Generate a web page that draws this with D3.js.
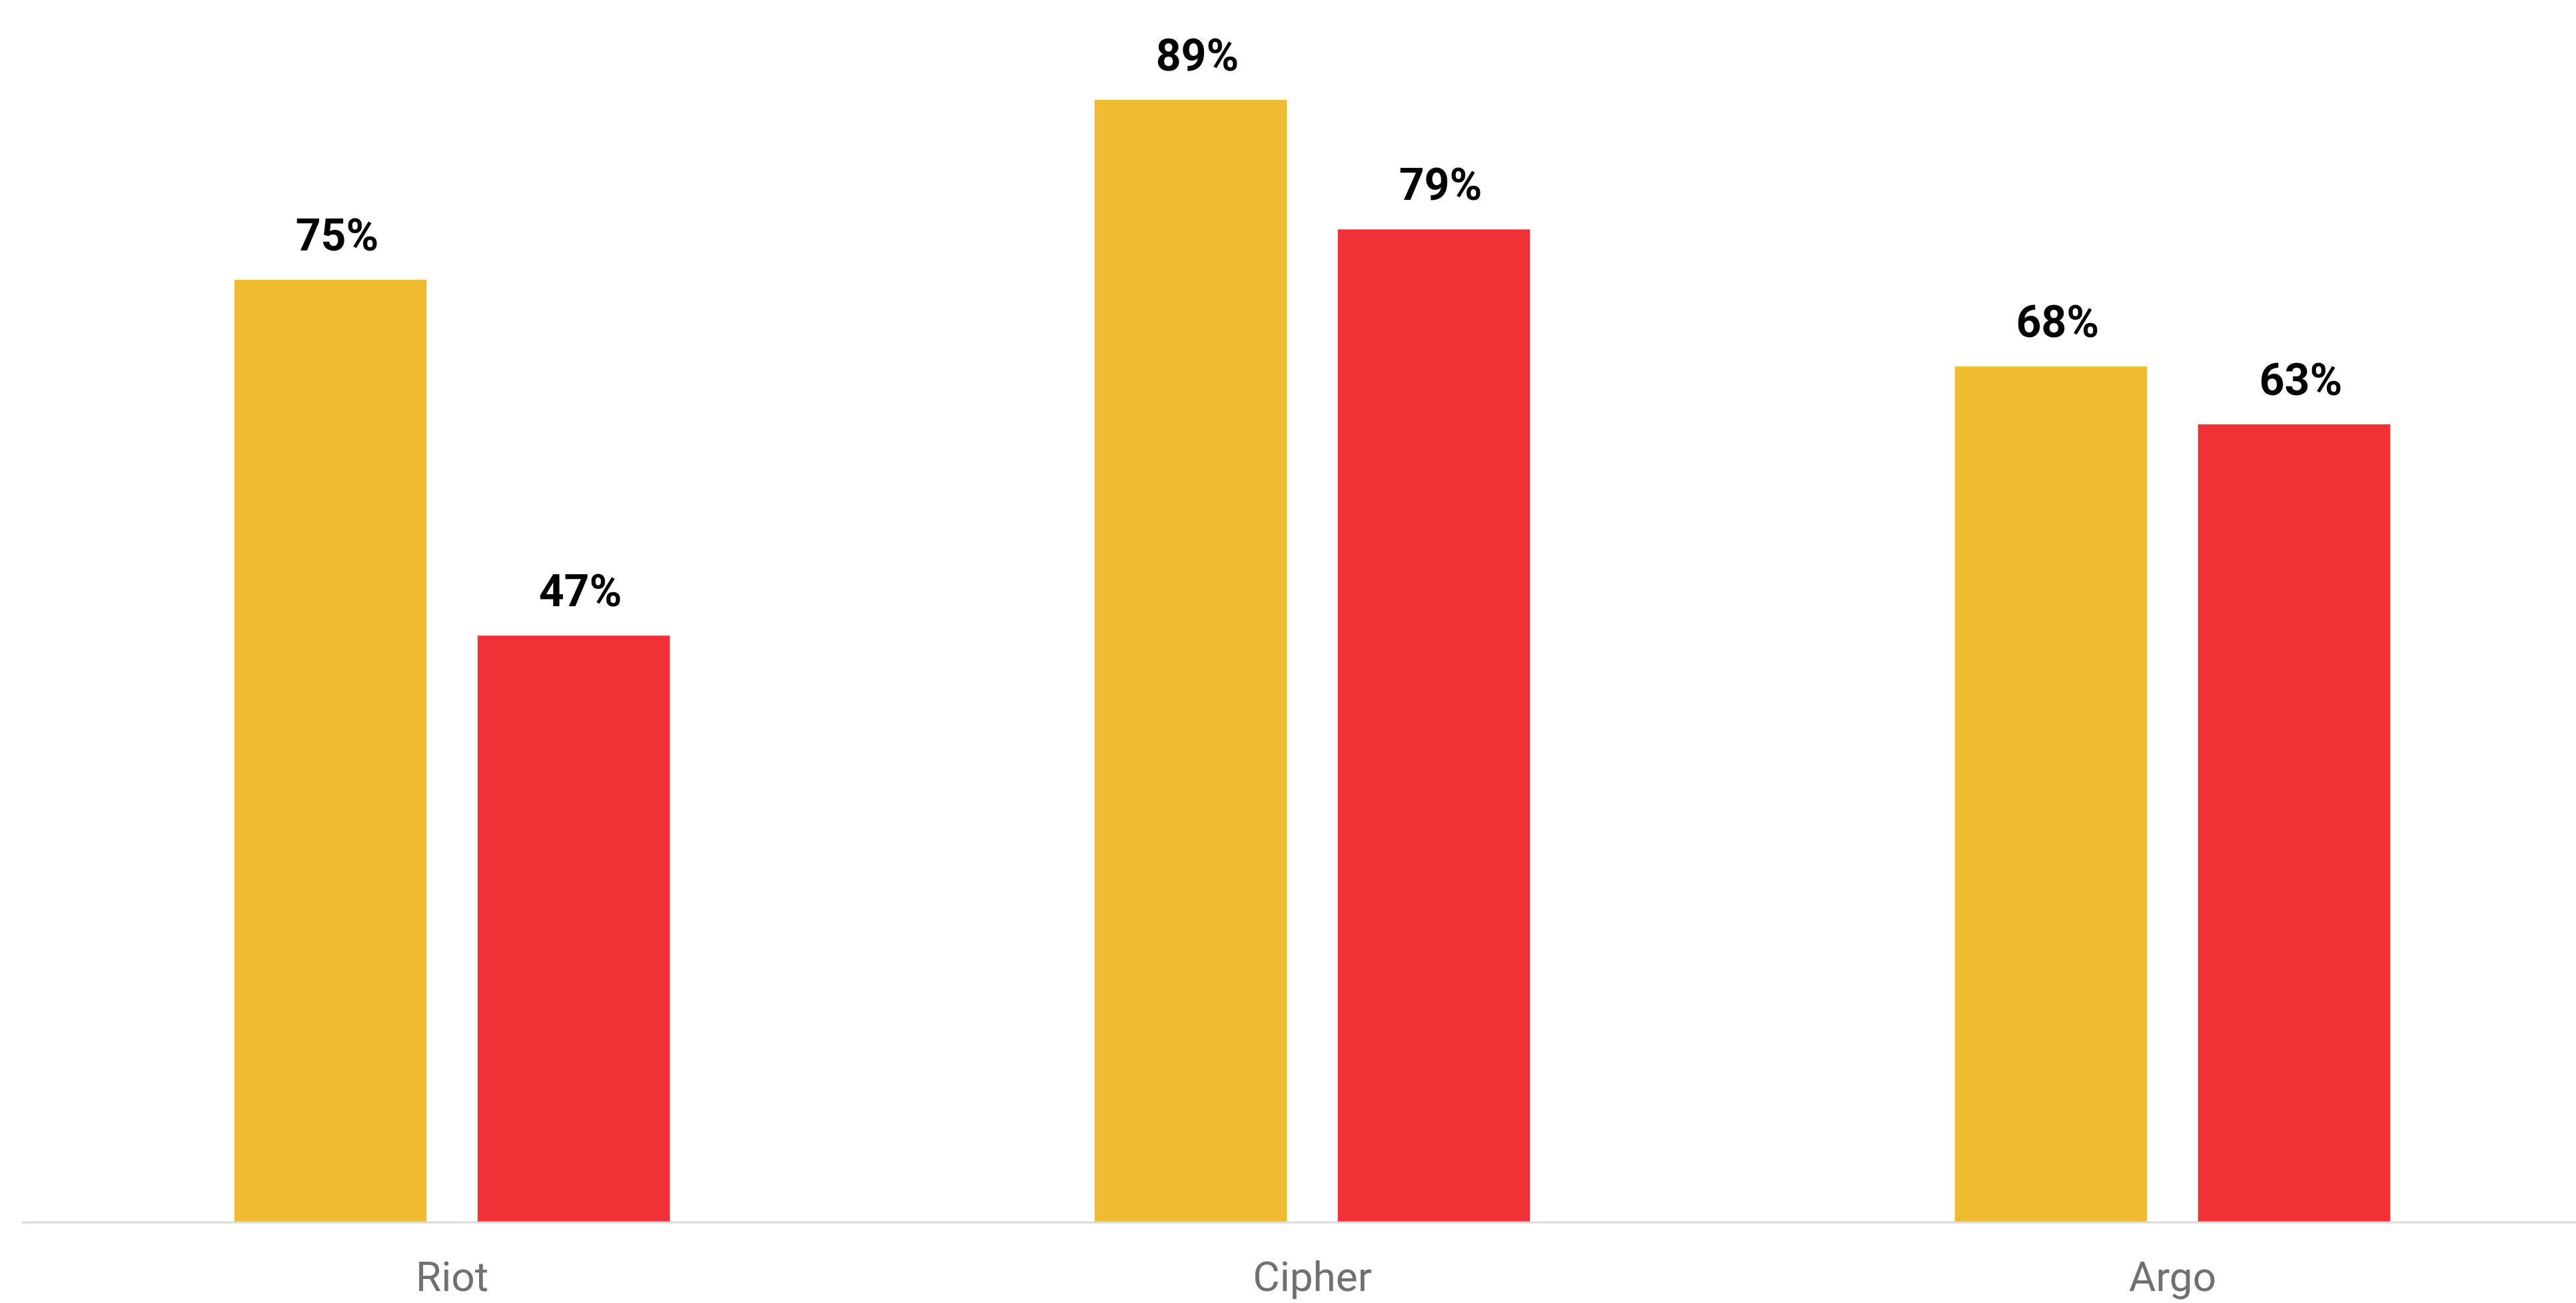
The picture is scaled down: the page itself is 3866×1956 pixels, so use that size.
<!DOCTYPE html>
<html>
<head>
<meta charset="utf-8">
<script src="https://cdn.jsdelivr.net/npm/d3@7"></script>
<style>
    body { margin: 0; background: #fff; }
</style>
</head>
<body>
<div id="wrapper"></div>
<script>
/*global d3*/

// data (labels are rounded)
const categories = ["Riot", "Cipher", "Argo"]
const seriesNames = ["first", "second"]
const firstValues = [74.9, 89.2, 68.0]
const secondValues = [46.6, 78.9, 63.4]
const seriesColors = ["#f0bb31", "#ef3235"]

function drawBars() {

    // 1. data
    const dataset = categories.map((c, i) => ({
        category: c,
        values: [
            { key: seriesNames[0], value: firstValues[i] },
            { key: seriesNames[1], value: secondValues[i] },
        ]
    }))

    // 2. dims
    let dims = {
        width: 3866,
        height: 1956,
        baseline: 1834,
        pxPerUnit: 18.88,
        left: 33,
        step: 1291,
        groupWidth: 653.5,
    }

    // 3. canvas
    const wrapper = d3.select("#wrapper")
        .append("svg")
        .attr("width", dims.width)
        .attr("height", dims.height)

    const bounds = wrapper.append("g")

    // 4. scales
    const x0 = d3.scaleBand()
        .domain(categories)
        .range([dims.left, dims.left + dims.step * categories.length])

    const x1 = d3.scaleBand()
        .domain(seriesNames)
        .range([0, dims.groupWidth])
        .paddingInner(0.2096)

    const yScale = d3.scaleLinear()
        .domain([0, 100])
        .range([dims.baseline, dims.baseline - 100 * dims.pxPerUnit])

    const colorScale = d3.scaleOrdinal()
        .domain(seriesNames)
        .range(seriesColors)

    const groupOffset = (x0.bandwidth() - dims.groupWidth) / 2

    // 5. draw data
    const groups = bounds.selectAll("g.group")
        .data(dataset)
        .join("g")
        .attr("class", "group")
        .attr("transform", d => `translate(${x0(d.category) + groupOffset},0)`)

    groups.selectAll("rect")
        .data(d => d.values)
        .join("rect")
        .attr("x", d => x1(d.key))
        .attr("y", d => yScale(d.value))
        .attr("width", x1.bandwidth())
        .attr("height", d => yScale(0) - yScale(d.value))
        .attr("fill", d => colorScale(d.key))

    groups.selectAll("text.value")
        .data(d => d.values)
        .join("text")
        .attr("class", "value")
        .attr("x", d => x1(d.key) + x1.bandwidth() / 2 + 10)
        .attr("y", d => yScale(d.value) - 44)
        .attr("text-anchor", "middle")
        .style("font-family", "Roboto, sans-serif")
        .style("font-weight", "bold")
        .style("font-size", "66px")
        .attr("fill", "#000")
        .text(d => d3.format(".0f")(d.value) + "%")

    // peripherals
    const xAxisGenerator = d3.axisBottom()
        .scale(x0)
        .tickSize(0)
        .tickPadding(0)

    const xAxis = bounds.append("g")
        .attr("transform", `translate(0,${dims.baseline + 1})`)
        .call(xAxisGenerator)

    xAxis.select(".domain")
        .attr("d", `M${dims.left},0H${dims.width}`)
        .attr("stroke", "#d9d9d9")
        .attr("stroke-width", 3)

    xAxis.selectAll(".tick text")
        .attr("y", 103)
        .attr("dy", 0)
        .style("font-family", "Roboto, sans-serif")
        .style("font-size", "62px")
        .attr("fill", "#707070")
}

drawBars()
</script>
</body>
</html>
